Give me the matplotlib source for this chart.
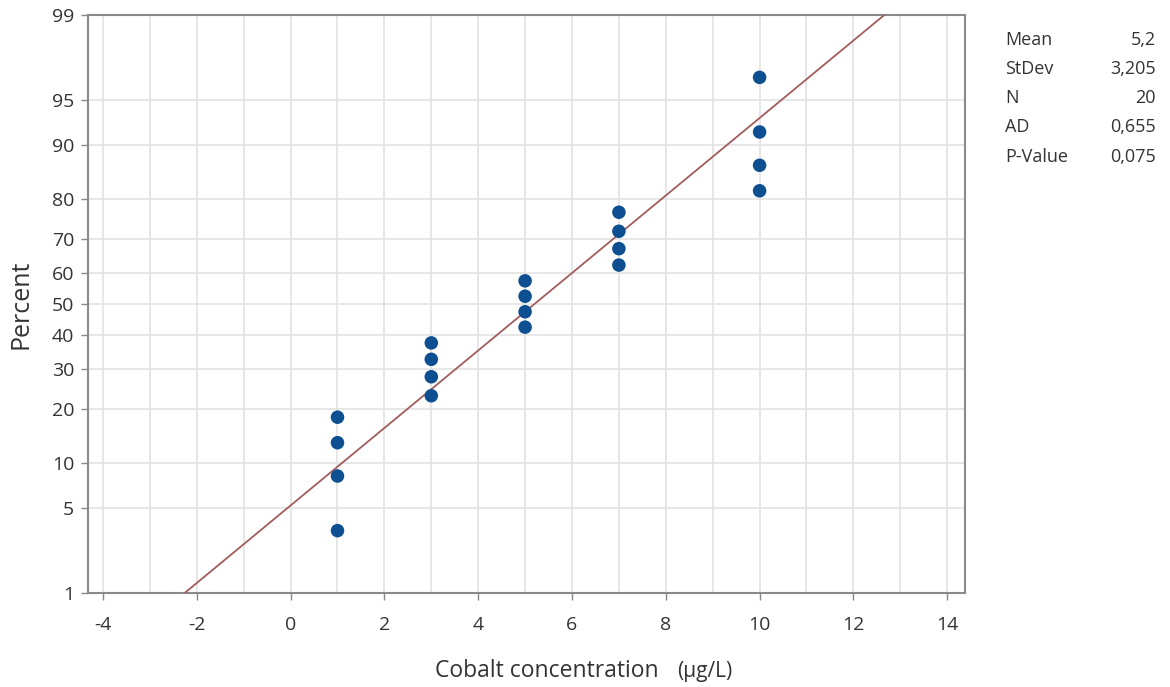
import numpy as np
import matplotlib
matplotlib.use('Agg')
import matplotlib.pyplot as plt
from statistics import NormalDist

plt.rcParams['font.family'] = ['Open Sans', 'DejaVu Sans']
plt.rcParams['axes.unicode_minus'] = False

# data
concentration = [1, 1, 1, 1, 3, 3, 3, 3, 5, 5, 5, 5, 7, 7, 7, 7, 10, 10, 10, 10]
percent = [3.4, 8.3, 13.2, 18.1, 23.0, 27.9, 32.8, 37.7, 42.6, 47.5,
           52.5, 57.4, 62.3, 67.2, 72.1, 77.0, 81.9, 86.8, 91.7, 96.6]
y_ticks = [1, 5, 10, 20, 30, 40, 50, 60, 70, 80, 90, 95, 99]
x_ticks = [-4, -2, 0, 2, 4, 6, 8, 10, 12, 14]
stat_names = ['Mean', 'StDev', 'N', 'AD', 'P-Value']
stat_values = ['5,2', '3,205', '20', '0,655', '0,075']
mean, stdev = 5.2, 3.205

nd = NormalDist()
_ppf = np.vectorize(nd.inv_cdf, otypes=[float])
_cdf = np.vectorize(nd.cdf, otypes=[float])


def fwd(p):
    p = np.clip(np.asarray(p, float) / 100.0, 1e-9, 1 - 1e-9)
    return _ppf(p)


def inv(z):
    return _cdf(np.asarray(z, float)) * 100.0


text_col = '#333333'
grid_col = '#e3e3e3'

fig = plt.figure(figsize=(11.7, 6.87), dpi=100)
ax = fig.add_axes([0.0752, 0.137, 0.7496, 0.841])

ax.set_yscale('function', functions=(fwd, inv))
ax.set_ylim(1, 99)
ax.set_xlim(-4.32, 14.38)

# fitted line from mean / stdev
line_p = np.array([1, 99])
line_x = mean + stdev * fwd(line_p)
ax.plot(line_x, line_p, color='#a25c5c', lw=1.3, zorder=3)

ax.scatter(concentration, percent, s=95, color='#0d4f91', zorder=4, edgecolors='none')

ax.set_yticks(y_ticks)
ax.set_yticklabels([str(t) for t in y_ticks])
ax.set_yticks([], minor=True)
ax.set_xticks(x_ticks)
ax.set_xticks(np.arange(-4, 15, 1), minor=True)
ax.tick_params(axis='both', which='major', labelsize=14, colors=text_col,
               length=5, width=1, color='#888888')
ax.tick_params(axis='x', which='major', pad=12)
ax.tick_params(axis='y', which='major', pad=5)
ax.tick_params(axis='x', which='minor', length=0)

for xv in np.arange(-4, 15, 1):
    ax.axvline(xv, color=grid_col, lw=1.2, zorder=0)
for yv in y_ticks[1:-1]:
    ax.axhline(yv, color=grid_col, lw=1.2, zorder=0)

for s in ax.spines.values():
    s.set_color('#8a8a8a')
    s.set_linewidth(1.5)

ax.set_ylabel('Percent', fontsize=18, color=text_col)
ax.yaxis.set_label_coords(-0.062, 0.5)
fig.text(0.372, 0.014, 'Cobalt concentration', fontsize=16.5, color=text_col,
         ha='left', va='baseline')
fig.text(0.579, 0.014, '(\u03bcg/L)', fontsize=15, color=text_col,
         ha='left', va='baseline')

for i, (n, v) in enumerate(zip(stat_names, stat_values)):
    yy = 0.942 - i * 0.0425
    fig.text(0.859, yy, n, fontsize=13, color=text_col, ha='left', va='center')
    fig.text(0.988, yy, v, fontsize=13, color=text_col, ha='right', va='center')

fig.savefig('out.png', dpi=100)
